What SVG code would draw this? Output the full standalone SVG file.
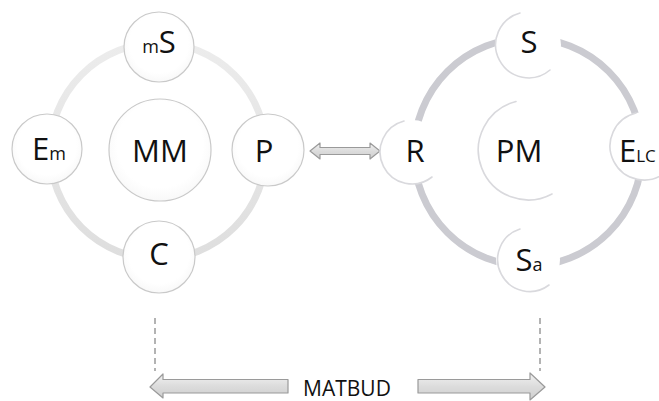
<svg xmlns="http://www.w3.org/2000/svg" width="659" height="401" viewBox="0 0 659 401">
<defs>
<linearGradient id="ringL" x1="0" y1="0" x2="0" y2="1">
<stop offset="0" stop-color="#ececec"/><stop offset="1" stop-color="#dedede"/>
</linearGradient>
<linearGradient id="arrowFill" x1="0" y1="0" x2="0" y2="1">
<stop offset="0" stop-color="#f2f2f2"/><stop offset="0.5" stop-color="#dcdcdc"/><stop offset="1" stop-color="#cfcfcf"/>
</linearGradient>
<radialGradient id="nodeFill" cx="0.5" cy="0.45" r="0.6">
<stop offset="0.7" stop-color="#ffffff"/><stop offset="1" stop-color="#f6f6f6"/>
</radialGradient>
</defs>
<style>
.lnode{fill:url(#nodeFill);stroke:#c9c9c9;stroke-width:1.2}
.rnode{fill:#ffffff;stroke:none}
.shade{fill:none;stroke:#d9d9dd;stroke-width:1.6;stroke-linecap:round}
.lbl{font-family:"Open Sans","Liberation Sans",sans-serif;fill:#111111;text-anchor:middle}
.big{font-size:31px}
.sm{font-size:18px}
.arrow{fill:url(#arrowFill);stroke:#9a9a9a;stroke-width:1.2;stroke-linejoin:round}
.dash{stroke:#9a9a9a;stroke-width:1.5;stroke-dasharray:6 4;fill:none}
</style>
<rect width="659" height="401" fill="#ffffff"/>

<g id="connectors">
<circle cx="158" cy="151" r="108" fill="none" stroke="url(#ringL)" stroke-width="7"/>
<circle cx="528" cy="152" r="114" fill="none" stroke="#cbcbd1" stroke-width="7"/>
<path class="arrow" d="M310,151 L320,143 L320,147.5 L370,147.5 L370,143 L380,151 L370,159 L370,154.5 L320,154.5 L320,159 Z"/>
<line class="dash" x1="155" y1="318" x2="155" y2="371"/>
<line class="dash" x1="540" y1="318" x2="540" y2="371"/>
<path class="arrow" d="M150,387 L163,374 L163,379.5 L288,379.5 L288,393 L163,393 L163,398 Z"/>
<path class="arrow" d="M545,387 L530,373 L530,379.5 L418,379.5 L418,393 L530,393 L530,400 Z"/>
</g>

<g id="node-MM"><circle class="lnode" cx="160" cy="150" r="51"/><text class="lbl big" x="160" y="162">MM</text></g>
<g id="node-mS"><circle class="lnode" cx="159" cy="47" r="35"/><text class="lbl" x="159" y="53"><tspan class="sm">m</tspan><tspan class="big">S</tspan></text></g>
<g id="node-Em"><circle class="lnode" cx="47" cy="149" r="35"/><text class="lbl" x="49" y="160"><tspan class="big">E</tspan><tspan class="sm">m</tspan></text></g>
<g id="node-P"><circle class="lnode" cx="268" cy="150" r="36"/><text class="lbl big" x="264" y="162">P</text></g>
<g id="node-C"><circle class="lnode" cx="159" cy="257" r="36"/><text class="lbl big" x="159" y="265">C</text></g>

<g id="node-PM"><circle class="rnode" cx="528" cy="150" r="50"/><path class="shade" d="M516,101.5 A50,50 0 1 0 552,194"/><text class="lbl big" x="519" y="162">PM</text></g>
<g id="node-S"><circle class="rnode" cx="528" cy="45" r="33"/><path class="shade" d="M520,13 A33,33 0 1 0 550,70"/><text class="lbl big" x="529" y="53">S</text></g>
<g id="node-R"><circle class="rnode" cx="412" cy="152" r="32"/><path class="shade" d="M404,121 A32,32 0 1 0 432,177"/><text class="lbl big" x="415" y="162">R</text></g>
<g id="node-ELC"><circle class="rnode" cx="644" cy="146" r="34"/><path class="shade" d="M636,113 A34,34 0 1 0 666,172"/><text class="lbl" x="619" y="162" style="text-anchor:start"><tspan class="big">E</tspan><tspan class="sm" style="font-size:17px">LC</tspan></text></g>
<g id="node-Sa"><circle class="rnode" cx="528" cy="260" r="32"/><path class="shade" d="M520,229 A32,32 0 1 0 549,285"/><text class="lbl" x="529" y="271"><tspan class="big">S</tspan><tspan class="sm">a</tspan></text></g>

<text class="lbl" x="347" y="396" style="font-size:21px">MATBUD</text>
</svg>
